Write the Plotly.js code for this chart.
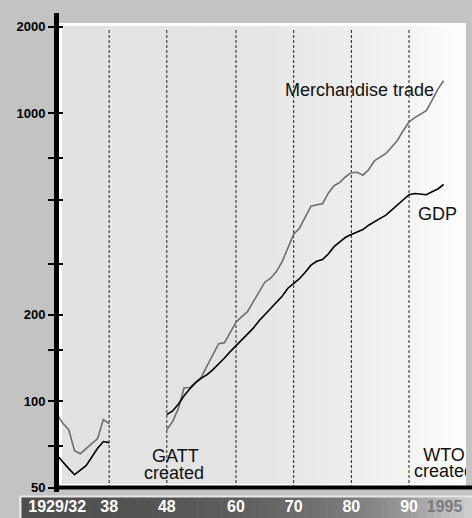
<!DOCTYPE html>
<html><head><meta charset="utf-8">
<script src="https://cdn.plot.ly/plotly-3.0.1.min.js"></script>
<style>html,body{margin:0;padding:0;overflow:hidden;background:#c3c3c3}</style>
</head><body><div id="chart" style="width:472px;height:518px"></div>
<script>
// ---- data (index) ----
const prewarYears = [1929,1930,1931,1932,1933,1934,1935,1936,1937,1938];
const tradePrewar = [89.8,83.6,79.6,67.3,65.7,68.2,71.2,74.2,86.3,83.6];
const gdpPrewar   = [64.7,61.2,58.3,55.6,57.8,59.7,64.0,68.6,72.4,71.8];

const postwarYears = [];
for (let y = 1948; y <= 1996; y++) postwarYears.push(y);
const tradePostwar = [79.6,84.9,94.2,111.4,111.4,116.0,121.2,132.9,145.1,158.4,
  159.7,173.6,188.1,196.6,204.6,221.6,240.1,259.0,267.5,281.8,
  305.2,340.0,380.2,398.9,433.8,475.6,481.4,485.3,527.8,560.3,
  575.4,602.1,621.7,624.2,609.5,636.8,684.3,706.5,725.3,764.1,
  806.2,869.9,934.6,966.5,996.3,1022,1110,1213,1297];
const gdpPostwar = [89.8,92.5,97.6,104.5,110.5,116.0,120.2,123.6,128.7,134.5,
  141.3,148.6,155.9,162.9,170.2,179.3,190.4,199.8,208.9,218.9,
  231.4,246.9,255.9,266.4,280.5,296.8,306.2,310.6,324.6,344.1,
  357.6,370.9,379.3,386.3,394.7,408.5,421.1,431.7,442.9,461.7,
  481.4,501.1,521.4,526.5,522.8,521.4,534.2,545.8,565.8];

const markerYears = [1938,1948,1960,1970,1980,1990];
const xTickVals = [1929,1938,1948,1960,1970,1980,1990,1995];
const xTickText = ['1929/32','38','48','60','70','80','90',
  '&nbsp;&nbsp;&nbsp;<span style="color:#7c7c7c">1995</span>'];
const yTickVals = [50,70,100,150,200,300,500,700,1000,2000];
const yTickText = ['50','','100','','200','','','','1000','2000'];

// ---- geometry helpers (plot area: x 57..466, y 23..488) ----
const L = 57, R = 466, T = 23, B = 488;
const W = R - L, H = B - T;
const px = x => (x - L) / W;
const py = y => (B - y) / H;

function hex(c){return [parseInt(c.slice(1,3),16),parseInt(c.slice(3,5),16),parseInt(c.slice(5,7),16)];}
function colorAt(stops, x){
  if (x <= stops[0][0]) return stops[0][1];
  for (let i=1;i<stops.length;i++){
    if (x <= stops[i][0]){
      const a=hex(stops[i-1][1]), b=hex(stops[i][1]);
      const t=(x-stops[i-1][0])/(stops[i][0]-stops[i-1][0]);
      const c=a.map((v,k)=>Math.round(v+(b[k]-v)*t));
      return 'rgb('+c.join(',')+')';
    }
  }
  return stops[stops.length-1][1];
}
function gradientRects(x0, x1, yTop, yBot, stops, n){
  const out=[]; const step=(x1-x0)/n;
  for (let i=0;i<n;i++){
    const a=x0+i*step, b=a+step+0.6;
    out.push({type:'rect',xref:'paper',yref:'paper',layer:'below',
      x0:px(a),x1:px(Math.min(b,x1)),y0:py(yBot),y1:py(yTop),
      fillcolor:colorAt(stops,a+step/2),line:{width:0}});
  }
  return out;
}

const plotStops = [[62,'#e2e2e2'],[230,'#e4e4e4'],[300,'#e9e9e9'],[360,'#eeeeee'],[410,'#f4f4f4'],[440,'#fafafa'],[466,'#ffffff']];
const bandStops = [[20,'#4e4e4e'],[150,'#545454'],[240,'#5e5e5e'],[300,'#6c6c6c'],[360,'#808080'],[410,'#9c9c9c'],[440,'#b8b8b8'],[475,'#d0d0d0']];

let shapes = [];
shapes = shapes.concat(gradientRects(62, 466, 26, 484, plotStops, 60));
shapes.push({type:'rect',xref:'paper',yref:'paper',layer:'below',x0:px(19),x1:px(480),y0:py(525),y1:py(495.5),fillcolor:'#e6e6e6',line:{width:0}});
shapes = shapes.concat(gradientRects(21.5, 480, 497.5, 525, bandStops, 60));
markerYears.forEach(yr => shapes.push({type:'line',xref:'x',yref:'paper',layer:'below',
  x0:yr,x1:yr,y0:0,y1:py(30),line:{color:'#222',width:1,dash:'3px,2px'}}));
shapes.push({type:'line',xref:'paper',yref:'paper',layer:'above',x0:px(56.5),x1:px(56.5),y0:py(492),y1:py(13),line:{color:'#000',width:5}});
shapes.push({type:'line',xref:'paper',yref:'paper',layer:'above',x0:px(54),x1:px(480),y0:py(487.5),y1:py(487.5),line:{color:'#000',width:4}});

const lbl = {family:'Liberation Sans, Arial, sans-serif', size:18, color:'#111'};
const annotations = [
  {text:'Merchandise trade', xref:'paper', yref:'paper', x:px(359), y:py(90.5), showarrow:false, font:lbl, xanchor:'center', yanchor:'middle'},
  {text:'GDP', xref:'paper', yref:'paper', x:px(437), y:py(213.5), showarrow:false, font:lbl, xanchor:'center', yanchor:'middle'},
  {text:'GATT', xref:'paper', yref:'paper', x:px(175), y:py(456), showarrow:false, font:lbl, xanchor:'center', yanchor:'middle'},
  {text:'created', xref:'paper', yref:'paper', x:px(173.5), y:py(473), showarrow:false, font:lbl, xanchor:'center', yanchor:'middle'}
];

const tradeStyle = {color:'#6e6e6e', width:1.6};
const gdpStyle = {color:'#000000', width:1.6};
const traces = [
  {x:prewarYears, y:tradePrewar, mode:'lines', line:tradeStyle, hoverinfo:'skip', showlegend:false},
  {x:postwarYears, y:tradePostwar, mode:'lines', line:tradeStyle, hoverinfo:'skip', showlegend:false},
  {x:prewarYears, y:gdpPrewar, mode:'lines', line:gdpStyle, hoverinfo:'skip', showlegend:false},
  {x:postwarYears, y:gdpPostwar, mode:'lines', line:gdpStyle, hoverinfo:'skip', showlegend:false},
  {x:[1996.07,1996.07], y:[64.4,56.5], yaxis:'y2', mode:'text', text:['WTO','created'],
   textposition:'middle center', textfont:lbl, cliponaxis:true, hoverinfo:'skip', showlegend:false}
];

const yRange = [Math.log10(50)-0.0005, 3.3136];
const layout = {
  width:472, height:518,
  margin:{l:L, r:472-R, t:T, b:518-B, pad:0},
  paper_bgcolor:'#c3c3c3', plot_bgcolor:'#ffffff',
  showlegend:false,
  xaxis:{range:[1928.96,1999.88], showgrid:false, zeroline:false, showline:false, ticks:'',
    tickmode:'array', tickvals:xTickVals, ticktext:xTickText, ticklabelstandoff:7, tickangle:0,
    tickfont:{family:'Liberation Sans, Arial, sans-serif', size:16, color:'#ffffff', weight:'bold'}},
  yaxis:{type:'log', range:yRange, showgrid:false, zeroline:false, showline:false,
    ticks:'outside', ticklen:8, tickwidth:2, tickcolor:'#000',
    tickmode:'array', tickvals:yTickVals, ticktext:yTickText, ticklabelstandoff:0,
    tickfont:{family:'Liberation Sans, Arial, sans-serif', size:13, color:'#000', weight:'bold'}},
  yaxis2:{type:'log', range:yRange, overlaying:'y', side:'left', showgrid:false, zeroline:false, showline:false,
    ticks:'inside', ticklen:6, tickwidth:2, tickcolor:'#000', tickmode:'array', tickvals:yTickVals, showticklabels:false},
  shapes:shapes,
  annotations:annotations
};

Plotly.newPlot('chart', traces, layout, {staticPlot:true, displayModeBar:false});
</script>
</body></html>
